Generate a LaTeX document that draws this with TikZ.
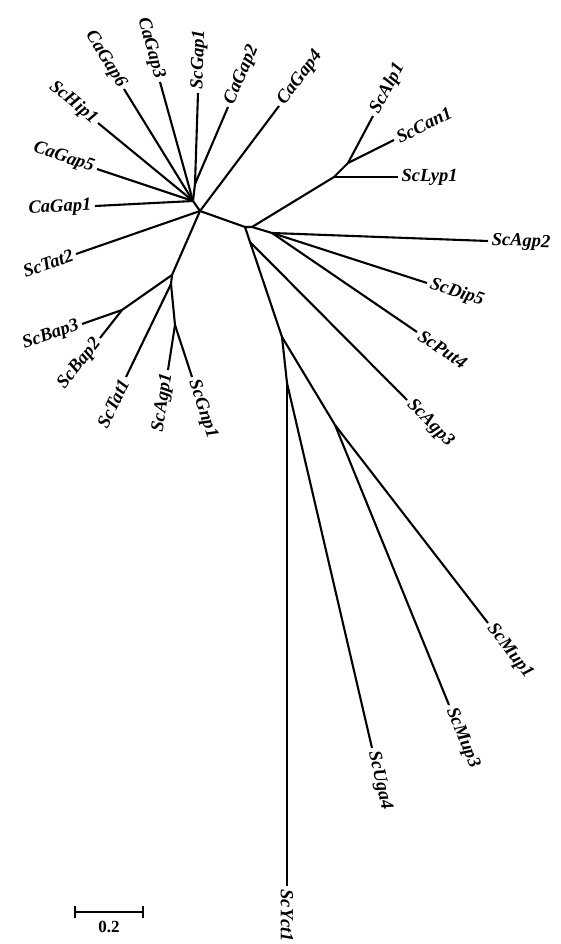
\documentclass[tikz,border=0pt]{standalone}
\usepackage{fontspec}
\setmainfont{Liberation Serif}[
  UprightFont={Liberation Serif},
  BoldFont={Liberation Serif Bold},
  ItalicFont={Liberation Serif Italic},
  BoldItalicFont={Liberation Serif Bold Italic}]
\usetikzlibrary{calc}
\begin{document}
\begin{tikzpicture}[x=1pt,y=-1pt,
  br/.style={line width=2.1pt},
  lbl/.style={font=\fontsize{18.5}{20}\selectfont\bfseries\itshape, inner sep=3.5pt},
  lr/.style={lbl, anchor=west, rotate=#1},
  ll/.style={lbl, anchor=east, rotate=#1}]
\useasboundingbox (0,0) rectangle (560,944);
% internal nodes
\coordinate (H1) at (193,201);
\coordinate (G) at (195,184);
\coordinate (C) at (200,211);
\coordinate (L1) at (172,275);
\coordinate (L1b) at (171,284);
\coordinate (L3) at (175,325);
\coordinate (BN) at (122,310);
\coordinate (R) at (245,227);
\coordinate (B) at (252,227);
\coordinate (A) at (272,233);
\coordinate (LY) at (334,177);
\coordinate (AC) at (348,163);
\coordinate (T1) at (250,242);
\coordinate (D1) at (282,337);
\coordinate (M) at (335,425);
\coordinate (D2) at (287,383);
% leaves
\coordinate (CaGap6) at (124,89);
\coordinate (CaGap3) at (160,82);
\coordinate (ScGap1) at (198,93);
\coordinate (CaGap2) at (228,107);
\coordinate (ScHip1) at (98,123);
\coordinate (CaGap5) at (97,169);
\coordinate (CaGap1) at (95,206);
\coordinate (ScTat2) at (76,254);
\coordinate (CaGap4) at (279,106);
\coordinate (ScAlp1) at (373,116);
\coordinate (ScCan1) at (394,140);
\coordinate (ScLyp1) at (398,177);
\coordinate (ScAgp2) at (488,241);
\coordinate (ScDip5) at (427,283);
\coordinate (ScPut4) at (417,332);
\coordinate (ScAgp3) at (407,400);
\coordinate (ScMup1) at (488,623);
\coordinate (ScMup3) at (449,705);
\coordinate (ScUga4) at (372,748);
\coordinate (ScYct1) at (287,886);
\coordinate (ScGnp1) at (192,377);
\coordinate (ScAgp1) at (168,370);
\coordinate (ScTat1) at (126,377);
\coordinate (ScBap2) at (100,338);
\coordinate (ScBap3) at (82,324);
% internal edges
\draw[br] (G) -- (H1) -- (C) -- (R) -- (B) -- (A);
\draw[br] (C) -- (L1) -- (L1b) -- (L3);
\draw[br] (L1) -- (BN);
\draw[br] (B) -- (LY) -- (AC);
\draw[br] (R) -- (T1) -- (D1) -- (D2);
\draw[br] (D1) -- (M);
% leaf edges
\draw[br] (H1) -- (CaGap6);
\draw[br] (H1) -- (CaGap3);
\draw[br] (G) -- (ScGap1);
\draw[br] (G) -- (CaGap2);
\draw[br] (H1) -- (ScHip1);
\draw[br] (H1) -- (CaGap5);
\draw[br] (H1) -- (CaGap1);
\draw[br] (C) -- (ScTat2);
\draw[br] (C) -- (CaGap4);
\draw[br] (AC) -- (ScAlp1);
\draw[br] (AC) -- (ScCan1);
\draw[br] (LY) -- (ScLyp1);
\draw[br] (A) -- (ScAgp2);
\draw[br] (A) -- (ScDip5);
\draw[br] (A) -- (ScPut4);
\draw[br] (T1) -- (ScAgp3);
\draw[br] (M) -- (ScMup1);
\draw[br] (M) -- (ScMup3);
\draw[br] (D2) -- (ScUga4);
\draw[br] (D2) -- (ScYct1);
\draw[br] (L3) -- (ScGnp1);
\draw[br] (L3) -- (ScAgp1);
\draw[br] (L1b) -- (ScTat1);
\draw[br] (BN) -- (ScBap2);
\draw[br] (BN) -- (ScBap3);
% labels
\node[ll=-58.4] (tCaGap6) at (CaGap6) {CaGap6};
\node[ll=-74.5] (tCaGap3) at (CaGap3) {CaGap3};
\node[lr=88.1] (tScGap1) at (ScGap1) {ScGap1};
\node[lr=66.8] (tCaGap2) at (CaGap2) {CaGap2};
\node[ll=-39.4] (tScHip1) at (ScHip1) {ScHip1};
\node[ll=-18.4] (tCaGap5) at (CaGap5) {CaGap5};
\node[ll=2.9] (tCaGap1) at (CaGap1) {CaGap1};
\node[ll=19.1] (tScTat2) at (ScTat2) {ScTat2};
\node[lr=53] (tCaGap4) at (CaGap4) {CaGap4};
\node[lr=62] (tScAlp1) at (ScAlp1) {ScAlp1};
\node[lr=26.6] (tScCan1) at (ScCan1) {ScCan1};
\node[lr=0] (tScLyp1) at (ScLyp1) {ScLyp1};
\node[lr=-2.1] (tScAgp2) at (ScAgp2) {ScAgp2};
\node[lr=-17.9] (tScDip5) at (ScDip5) {ScDip5};
\node[lr=-34.3] (tScPut4) at (ScPut4) {ScPut4};
\node[lr=-45.2] (tScAgp3) at (ScAgp3) {ScAgp3};
\node[lr=-52.3] (tScMup1) at (ScMup1) {ScMup1};
\node[lr=-67.8] (tScMup3) at (ScMup3) {ScMup3};
\node[lr=-76.9] (tScUga4) at (ScUga4) {ScUga4};
\node[lr=-90] (tScYct1) at (ScYct1) {ScYct1};
\node[lr=-71.9] (tScGnp1) at (ScGnp1) {ScGnp1};
\node[ll=81.2] (tScAgp1) at (ScAgp1) {ScAgp1};
\node[ll=64.2] (tScTat1) at (ScTat1) {ScTat1};
\node[ll=51.8] (tScBap2) at (ScBap2) {ScBap2};
\node[ll=19.3] (tScBap3) at (ScBap3) {ScBap3};
% scale bar
\coordinate (sb1) at (75,912);
\coordinate (sb2) at (143,912);
\draw[br] (sb1) -- (sb2);
\draw[br] ([yshift=-6pt]sb1) -- ([yshift=6pt]sb1);
\draw[br] ([yshift=-6pt]sb2) -- ([yshift=6pt]sb2);
\node[font=\fontsize{17}{18}\selectfont\bfseries, anchor=north, inner sep=1pt] (sbl) at ($(sb1)!0.5!(sb2)+(0,8)$) {0.2};
\end{tikzpicture}
\end{document}
